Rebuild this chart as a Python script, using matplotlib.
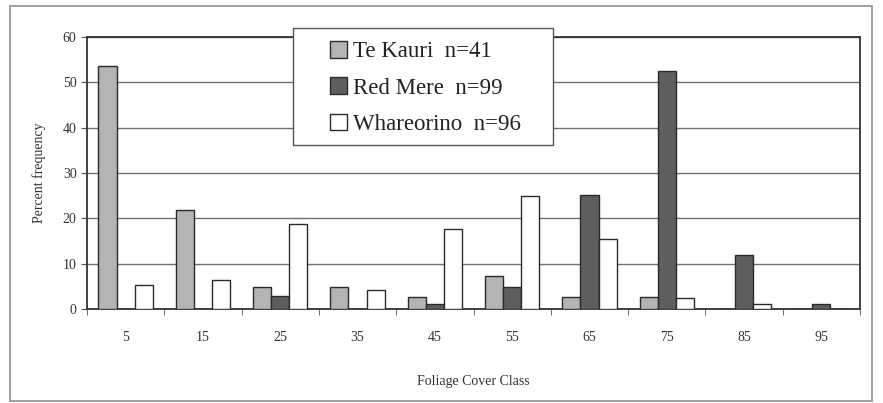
import matplotlib.pyplot as plt
import numpy as np
from matplotlib.patches import Rectangle

# foliage cover classes (class mid-points, %)
cover_classes = ['5', '15', '25', '35', '45', '55', '65', '75', '85', '95']

# percent frequency of each cover class per site
te_kauri = [53.7, 21.8, 4.8, 4.8, 2.7, 7.3, 2.7, 2.7, 0, 0]
red_mere = [0, 0, 2.9, 0, 1.2, 4.9, 25.2, 52.4, 11.8, 1.1]
whareorino = [5.2, 6.5, 18.7, 4.2, 17.6, 25.0, 15.5, 2.5, 1.1, 0]

site_labels = ['Te Kauri  n=41', 'Red Mere  n=99', 'Whareorino  n=96']

plt.rcParams['font.family'] = ['Liberation Serif', 'DejaVu Serif']

fig = plt.figure(figsize=(8.83, 4.03), dpi=100)
ax = fig.add_axes([0.0985, 0.2333, 0.8755, 0.675])

x = np.arange(len(cover_classes))
w = 0.235
b1 = ax.bar(x - w, te_kauri, w, color='#b4b4b4', edgecolor='#2a2a2a', linewidth=1.0, zorder=3)
b2 = ax.bar(x, red_mere, w, color='#5e5e5e', edgecolor='#2a2a2a', linewidth=1.0, zorder=3)
b3 = ax.bar(x + w, whareorino, w, color='white', edgecolor='#2a2a2a', linewidth=1.0, zorder=3)

ax.set_xlim(-0.5, len(cover_classes) - 0.5)
ax.set_ylim(0, 60)
ax.set_yticks(range(0, 61, 10))
ax.yaxis.grid(True, color='#707070', linewidth=1.0, zorder=0)
ax.set_axisbelow(True)

# category labels centred, tick marks between categories
ax.set_xticks(x)
ax.set_xticklabels(cover_classes, fontsize=10, color='#333333')
ax.tick_params(axis='x', length=0, pad=16)
ax.set_xticks(np.arange(-0.5, len(cover_classes), 1), minor=True)
ax.tick_params(axis='x', which='minor', length=4, direction='out', color='#555555')
ax.tick_params(axis='y', labelsize=10, labelcolor='#333333', length=4, color='#555555')

for s in ax.spines.values():
    s.set_color('#333333')
    s.set_linewidth(1.3)

ax.set_xlabel('Foliage Cover Class', fontsize=10, color='#333333', labelpad=22)
ax.set_ylabel('Percent frequency', fontsize=10, color='#333333', labelpad=12)

# legend box, drawn wider than its entries
fig.patches.append(Rectangle((293 / 883, 1 - 145 / 403), 260 / 883, 117 / 403,
                             transform=fig.transFigure, facecolor='white',
                             edgecolor='#555555', linewidth=1.0, zorder=5))
leg = fig.legend([b1, b2, b3], site_labels, loc='upper left',
                 bbox_to_anchor=(330 / 883, 1 - 41 / 403), fontsize=16.5,
                 handlelength=0.75, handleheight=0.75, handletextpad=0.26,
                 labelspacing=0.65, borderpad=0, frameon=False, borderaxespad=0)
leg.set_zorder(6)
for t in leg.get_texts():
    t.set_color('#222222')

# thin border around the whole figure
fig.patches.append(Rectangle((0.011, 0.006), 0.977, 0.98, transform=fig.transFigure,
                             fill=False, edgecolor='#999999', linewidth=1.3))

fig.savefig('out.png', dpi=100)
